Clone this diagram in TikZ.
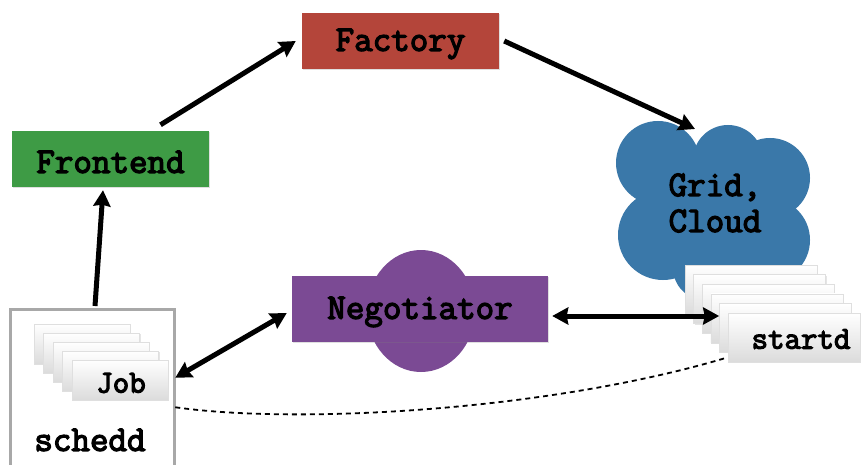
\documentclass[tikz,border=0pt]{standalone}
\usepackage{fontspec}
\newfontfamily\cour[FakeBold=3.6]{Latin Modern Mono}
\usetikzlibrary{arrows.meta,shadows,shapes.geometric,calc}
\definecolor{facred}{HTML}{B4453A}
\definecolor{frgreen}{HTML}{3E9B45}
\definecolor{cloudblue}{HTML}{3A78A9}
\definecolor{negpurple}{HTML}{7B4A94}
\definecolor{boxgray}{HTML}{A8A8A8}
\tikzset{
  lbl/.style={font=\cour\fontsize{36}{38}\selectfont, text=black},
  smalllbl/.style={font=\cour\fontsize{32}{34}\selectfont, text=black},
  colbox/.style={rectangle, inner sep=0pt, lbl,
    drop shadow={opacity=0.25, shadow xshift=1.2pt, shadow yshift=-1.2pt}},
  card/.style={rectangle, inner sep=0pt, smalllbl, top color=white, bottom color=gray!28,
    draw=gray!25, line width=0.5pt,
    drop shadow={opacity=0.2, shadow xshift=1pt, shadow yshift=-1pt}},
  arr/.style={line width=5pt, -{Stealth[length=16pt,width=17pt,inset=1.5pt]}},
  darr/.style={line width=5pt, {Stealth[length=16pt,width=17pt,inset=1.5pt]}-{Stealth[length=16pt,width=17pt,inset=1.5pt]}},
  dashline/.style={line width=1.8pt, dash pattern=on 5pt off 4pt}
}
\begin{document}
\begin{tikzpicture}[x=1pt,y=-1pt]
\useasboundingbox (0,0) rectangle (861,465);
\fill[white] (0,0) rectangle (861,465);

% Factory and Frontend
\node[colbox, fill=facred, minimum width=197pt, minimum height=56pt] (factory) at (400.5,41) {};
\node[lbl, inner sep=0pt] (factorylbl) at (400.5,44) {Factory};
\node[colbox, fill=frgreen, minimum width=197pt, minimum height=56pt] (frontend) at (110.5,159) {};
\node[lbl, inner sep=0pt] (frontendlbl) at (110.5,162) {Frontend};

% Cloud
\begin{scope}
\fill[cloudblue] (658,163) circle (42);
\fill[cloudblue] (728,160) circle (35);
\fill[cloudblue] (770,178) circle (40);
\fill[cloudblue] (663,235) circle (45);
\fill[cloudblue] (768,240) circle (42);
\fill[cloudblue] (715,210) circle (62);
\fill[cloudblue] (705,268) circle (32);
\end{scope}
\node[lbl, align=center, inner sep=0pt] (cloud) at (715,203) {Grid,\\[-2pt]Cloud};
\coordinate (cloudtop) at (695,129);

% Negotiator
\node[ellipse, fill=negpurple, minimum width=108pt, minimum height=122pt, inner sep=0pt] (negc) at (421,311) {};
\node[colbox, fill=negpurple, minimum width=256pt, minimum height=66pt] (neg) at (420,309) {};
\node[lbl, inner sep=0pt] (neglbl) at (420,312) {Negotiator};

% schedd
\draw[boxgray, line width=3pt] (10,475) -- (10,309) -- (174,309) -- (174,475);
\node[lbl, inner sep=0pt] (schedd) at (90,440) {schedd};
\coordinate (scheddtop) at (95,306);

% Job cards
\foreach \i in {4,3,2,1} {
  \node[card, minimum width=96pt, minimum height=40pt] (job\i) at (120-9.5*\i,380-9*\i) {};
}
\node[card, minimum width=96pt, minimum height=40pt] (job) at (120,380) {};
\node[smalllbl, inner sep=0pt] (joblbl) at (121,383) {Job};

% startd cards
\foreach \i in {5,4,3,2,1} {
  \node[card, minimum width=132pt, minimum height=49pt] (st\i) at (794-8.6*\i,337.5-9.6*\i) {};
}
\node[card, minimum width=132pt, minimum height=49pt] (startd) at (794,337.5) {};
\node[smalllbl, inner sep=0pt] (startdlbl) at (801,339) {startd};

% connectors
\draw[arr] (scheddtop) -- ([xshift=-7.5pt,yshift=-3pt]frontend.south);
\draw[arr] ([xshift=50pt,yshift=6pt]frontend.north) -- ([xshift=-6pt]factory.west);
\draw[arr] ([xshift=5pt]factory.east) -- (cloudtop);
\draw[darr] ([xshift=7pt,yshift=-18pt]job.north east) -- ([xshift=-5pt,yshift=-4pt]neg.west);
\draw[darr] ([xshift=4pt,yshift=-7pt]neg.east) -- (st1.west |- 0,316);
\draw[dashline] ([xshift=7pt,yshift=-7pt]job.south east) .. controls (300,425) and (550,410) .. ([xshift=-3pt,yshift=4pt]startd.south west);
\end{tikzpicture}
\end{document}
